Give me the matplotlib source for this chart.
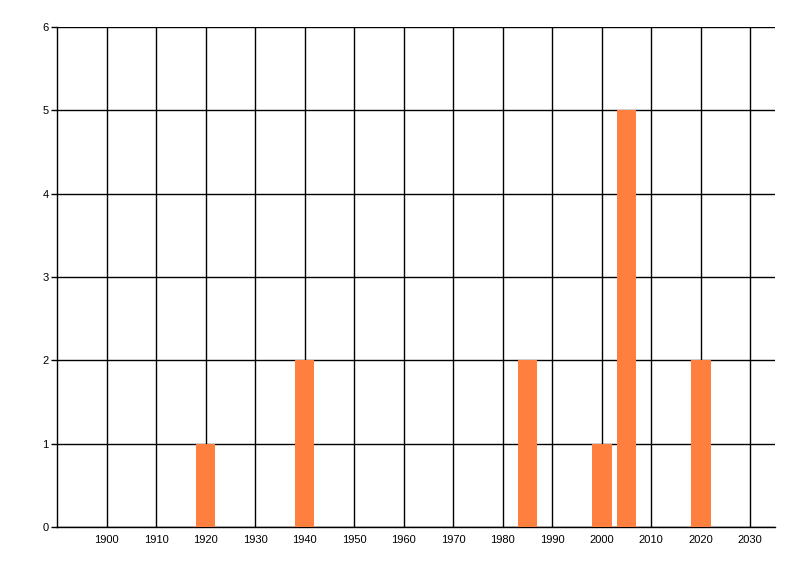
import matplotlib
matplotlib.use("Agg")
import matplotlib.pyplot as plt

# Data
years = [1920, 1940, 1985, 2000, 2005, 2020]
counts = [1, 2, 2, 1, 5, 2]
xticks = list(range(1900, 2031, 10))
yticks = list(range(0, 7))

plt.rcParams['font.family'] = ['Liberation Sans', 'DejaVu Sans']

fig = plt.figure(figsize=(8, 5.76), dpi=100)
ax = fig.add_axes([57 / 800, 1 - 527 / 576, (775 - 57) / 800, (527 - 27) / 576])

ax.bar(years, counts, width=4, color='#FF7F3F', zorder=3)

ax.set_xlim(1890, 2035)
ax.set_ylim(0, 6)
ax.set_xticks(xticks)
ax.set_yticks(yticks)
ax.grid(True, color='black', linewidth=1.0, zorder=1)
ax.tick_params(axis='x', length=0, pad=6, labelsize=8)
ax.tick_params(axis='y', length=4, width=1, pad=2, labelsize=8)

for side in ['top', 'right']:
    ax.spines[side].set_visible(False)
for side in ['left', 'bottom']:
    ax.spines[side].set_color('black')
    ax.spines[side].set_linewidth(1.0)

fig.savefig('out.png', dpi=100)
